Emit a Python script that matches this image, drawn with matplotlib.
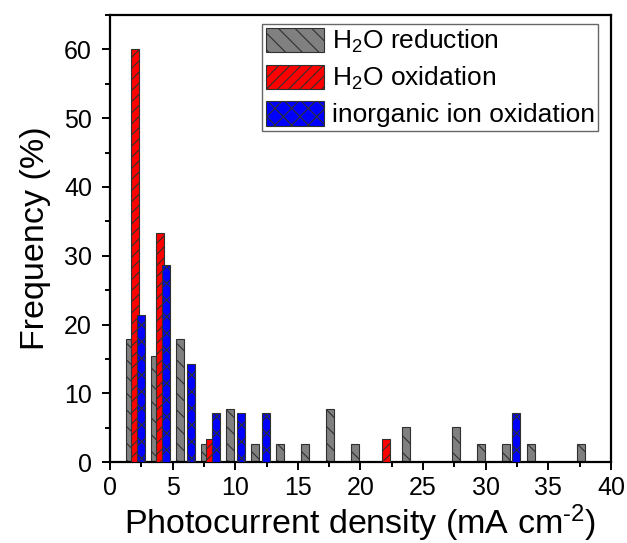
import matplotlib
matplotlib.use("Agg")
import matplotlib.pyplot as plt
from matplotlib.ticker import MultipleLocator

plt.rcParams['font.family'] = ['Liberation Sans', 'DejaVu Sans']
plt.rcParams['mathtext.fontset'] = 'custom'
plt.rcParams['mathtext.rm'] = 'Liberation Sans'
plt.rcParams['mathtext.it'] = 'Liberation Sans:italic'
plt.rcParams['mathtext.bf'] = 'Liberation Sans:bold'
plt.rcParams['hatch.linewidth'] = 0.8

# Bin centers (mA cm-2) and frequency (%)
red_centers_gray = [2, 4, 6, 8, 10, 12, 14, 16, 18, 20, 24, 28, 30, 32, 34, 38]
h2o_reduction = [17.9, 15.4, 17.9, 2.6, 7.7, 2.6, 2.6, 2.6, 7.7, 2.6, 5.1, 5.1, 2.6, 2.6, 2.6, 2.6]

ox_centers = [2, 4, 8, 22]
h2o_oxidation = [60.0, 33.3, 3.3, 3.3]

ion_centers = [2, 4, 6, 8, 10, 12, 32]
ion_oxidation = [21.4, 28.6, 14.3, 7.1, 7.1, 7.1, 7.1]

labels = ['H$_2$O reduction', 'H$_2$O oxidation', 'inorganic ion oxidation']

fig = plt.figure(figsize=(6.27, 5.43), dpi=100)
ax = fig.add_axes([0.1754, 0.149, 0.7991, 0.8234])

w = 0.64
ax.bar([c - 0.4 for c in red_centers_gray], h2o_reduction, width=w,
       color='#808080', edgecolor='#303030', linewidth=0.8, hatch='\\\\', label=labels[0], zorder=2)
ax.bar(ox_centers, h2o_oxidation, width=w,
       color='#ff0000', edgecolor='#303030', linewidth=0.8, hatch='///', label=labels[1], zorder=3)
ax.bar([c + 0.45 for c in ion_centers], ion_oxidation, width=w,
       color='#0000ff', edgecolor='#303030', linewidth=0.8, hatch='xx', label=labels[2], zorder=4)

ax.set_xlim(0, 40)
ax.set_ylim(0, 65)
ax.xaxis.set_major_locator(MultipleLocator(5))
ax.xaxis.set_minor_locator(MultipleLocator(2.5))
ax.yaxis.set_major_locator(MultipleLocator(10))
ax.yaxis.set_minor_locator(MultipleLocator(5))
ax.tick_params(which='major', direction='out', length=6, width=1.4, labelsize=18, pad=4)
ax.tick_params(axis='y', which='major', pad=7)
ax.tick_params(which='minor', direction='out', length=3.5, width=1.4)
for s in ax.spines.values():
    s.set_linewidth(1.6)

ax.set_xlabel('Photocurrent density (mA cm$^{\u20102}$)', fontsize=24.5, labelpad=2)
ax.set_ylabel('Frequency (%)', fontsize=24.5, labelpad=9)

leg = ax.legend(loc='upper right', bbox_to_anchor=(0.975, 0.98), borderaxespad=0,
                fontsize=19, frameon=True, fancybox=False, edgecolor='#404040',
                handlelength=2.2, handleheight=1.05, handletextpad=0.3,
                labelspacing=0.35, borderpad=0.15)
leg.get_frame().set_linewidth(1.0)

fig.savefig('out.png', dpi=100)
